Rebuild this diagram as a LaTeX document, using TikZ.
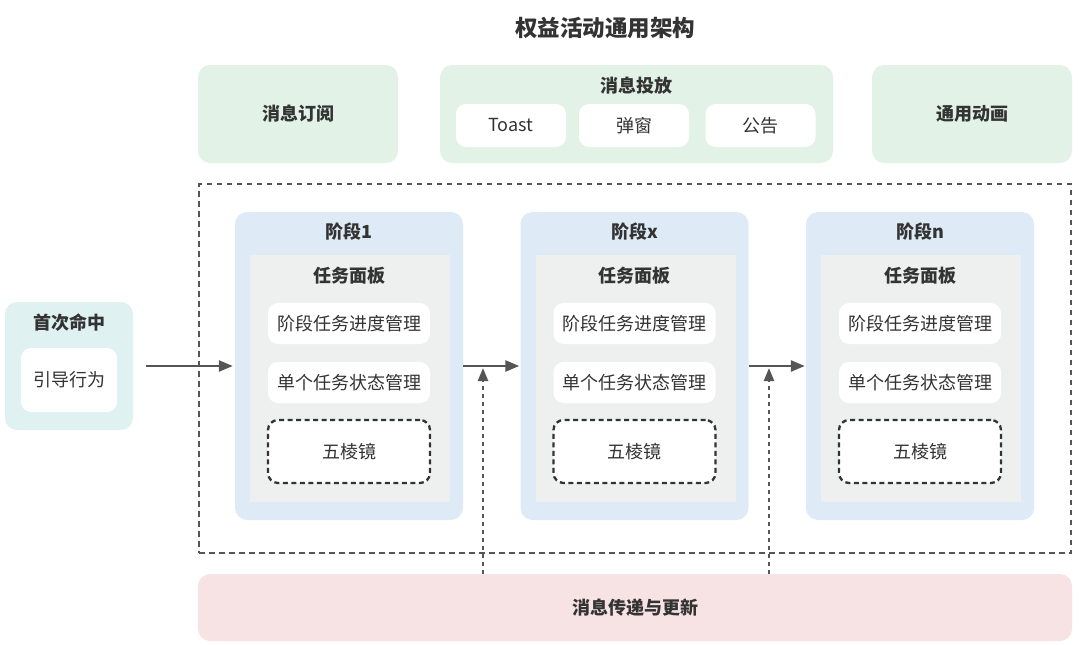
\documentclass[tikz,border=0pt]{standalone}
\usepackage{fontspec}
\setmainfont{Noto Sans CJK SC}
\usetikzlibrary{arrows.meta}
\definecolor{txt}{HTML}{333333}
\definecolor{lgreen}{HTML}{E2F2E7}
\definecolor{lblue}{HTML}{DEEBF7}
\definecolor{lgray}{HTML}{EEEFEF}
\definecolor{lteal}{HTML}{E0F1F2}
\definecolor{lpink}{HTML}{F8E3E4}
\definecolor{lnc}{HTML}{555555}
\tikzset{
  box/.style={draw=none, rounded corners=12pt, inner sep=0pt, text=txt},
  wbox/.style={box, fill=white, rounded corners=10pt, font=\fontsize{18}{20}\selectfont},
  ttl/.style={text=txt, font=\bfseries\fontsize{18}{20}\selectfont, inner sep=0pt},
  arr/.style={draw=lnc, line width=2.6pt, -{Triangle[length=14pt,width=11pt]}},
  darr/.style={draw=lnc, line width=2.4pt, dash pattern=on 4pt off 4pt, -{Triangle[length=13pt,width=10pt]}},
}
\begin{document}
\begin{tikzpicture}[x=1pt,y=-1pt]
\useasboundingbox (0,0) rectangle (1080,645);
% title
\node[ttl, font=\bfseries\fontsize{22.5}{24}\selectfont] (title) at (605,28) {权益活动通用架构};
% top row
\node[box, fill=lgreen, minimum width=200pt, minimum height=98pt, font=\bfseries\fontsize{18}{20}\selectfont] (sub) at (298,114) {消息订阅};
\node[box, fill=lgreen, minimum width=393pt, minimum height=98pt] (put) at (636.5,114) {};
\node[ttl] (putt) at (636.5,86) {消息投放};
\node[wbox, minimum width=110pt, minimum height=43pt] (toast) at (511,125.5) {Toast};
\node[wbox, minimum width=110pt, minimum height=43pt] (pop) at (634,125.5) {弹窗};
\node[wbox, minimum width=110pt, minimum height=43pt] (ann) at (760.5,125.5) {公告};
\node[box, fill=lgreen, minimum width=200pt, minimum height=98pt, font=\bfseries\fontsize{18}{20}\selectfont] (anim) at (972,114) {通用动画};
% dashed frame
\node[draw=lnc, line width=2.3pt, dash pattern=on 5.5pt off 4.5pt, minimum width=872pt, minimum height=369pt, inner sep=0pt] (frame) at (635,368.5) {};
% first hit
\node[box, fill=lteal, minimum width=128pt, minimum height=128pt] (hit) at (69,366) {};
\node[ttl] (hitt) at (69,323) {首次命中};
\node[wbox, minimum width=96pt, minimum height=64pt] (guide) at (69,380) {引导行为};
% stages
\foreach \nm/\lbl/\ox in {s1/阶段1/0, sx/阶段x/285.5, sn/阶段n/571}{
  \node[box, fill=lblue, minimum width=228pt, minimum height=308pt] (\nm) at (349+\ox,366) {};
  \node[ttl] (\nm t) at (349+\ox,232) {\lbl};
  \node[fill=lgray, inner sep=0pt, minimum width=200pt, minimum height=247pt] (\nm p) at (350+\ox,378.5) {};
  \node[ttl] (\nm pt) at (349+\ox,276) {任务面板};
  \node[wbox, minimum width=162pt, minimum height=41pt] (\nm a) at (349+\ox,323.5) {阶段任务进度管理};
  \node[wbox, minimum width=162pt, minimum height=41pt] (\nm b) at (349+\ox,382.5) {单个任务状态管理};
  \node[wbox, draw=txt, line width=2.3pt, dash pattern=on 5pt off 3.5pt, minimum width=162pt, minimum height=63pt] (\nm c) at (349+\ox,451.5) {五棱镜};
}
% bottom
\node[box, fill=lpink, minimum width=874pt, minimum height=67pt, font=\bfseries\fontsize{18}{20}\selectfont] (msg) at (635,607.5) {消息传递与更新};
% connectors
\draw[arr, shorten <=13pt, shorten >=2pt] (hit.east) -- (s1.west);
\draw[arr, shorten >=1pt] (s1.east) -- (sx.west);
\draw[arr, shorten >=1pt] (sx.east) -- (sn.west);
\coordinate (m1) at (483,368);
\coordinate (m2) at (769,368);
\draw[darr] (msg.north -| m1) -- (m1);
\draw[darr] (msg.north -| m2) -- (m2);
\end{tikzpicture}
\end{document}
